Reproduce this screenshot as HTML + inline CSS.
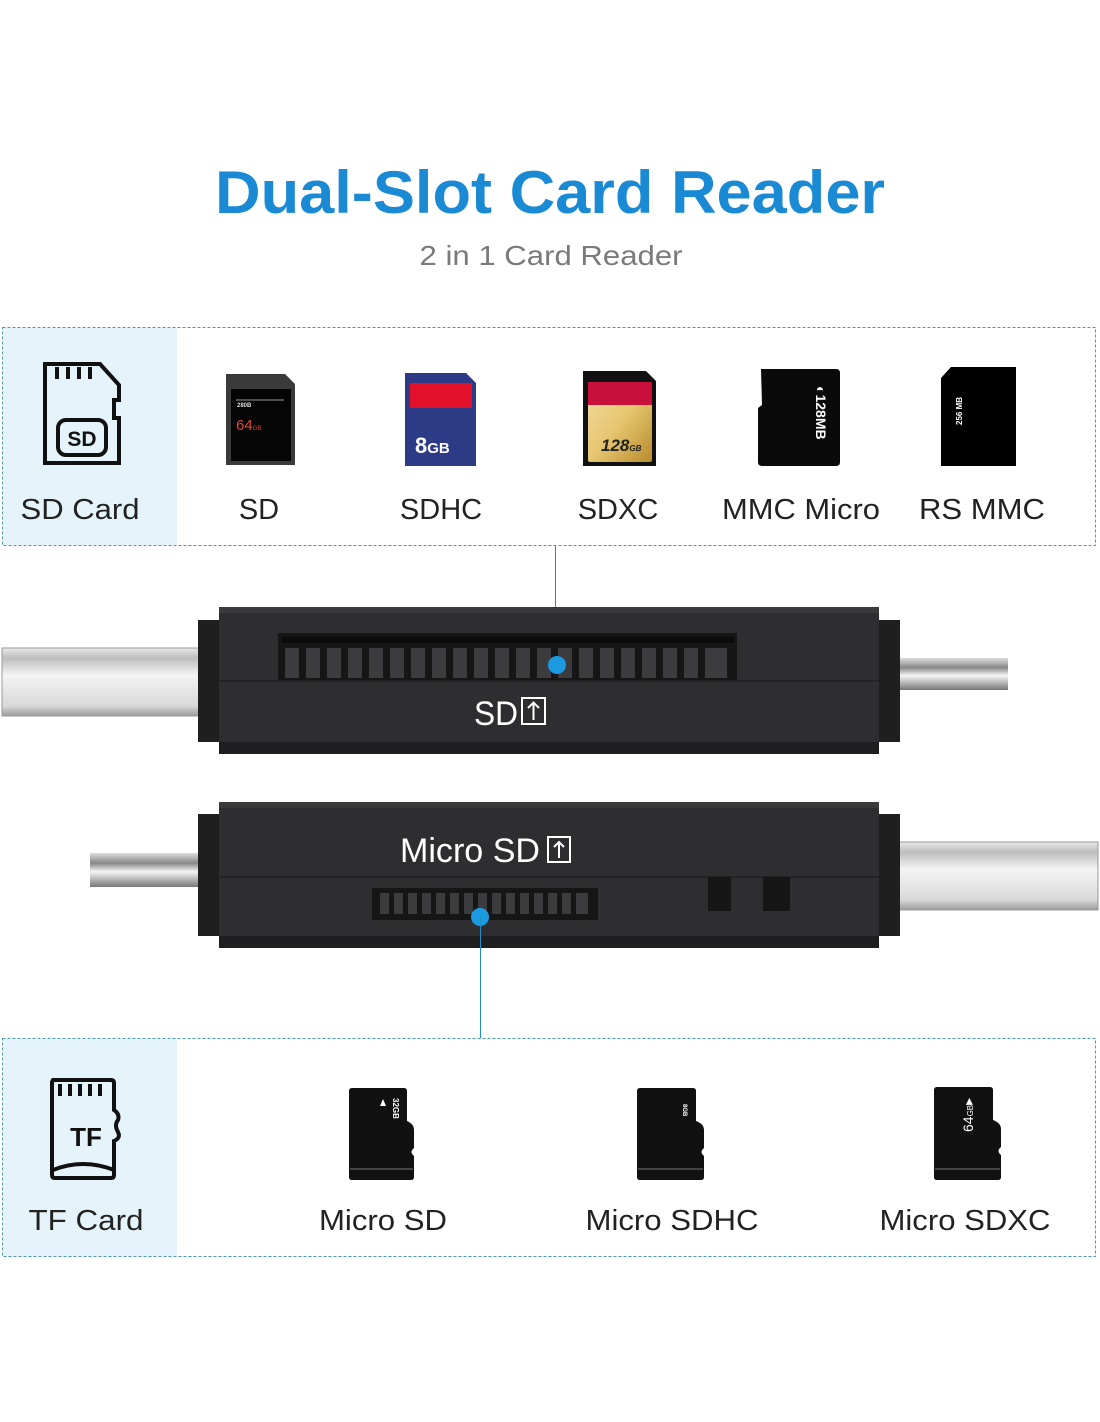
<!DOCTYPE html>
<html><head><meta charset="utf-8"><style>
html,body{margin:0;padding:0;background:#fff;width:1100px;height:1422px;overflow:hidden}
svg{display:block}
text{font-family:"Liberation Sans",Arial,sans-serif}
</style></head><body>
<svg width="1100" height="1422" viewBox="0 0 1100 1422" xmlns="http://www.w3.org/2000/svg">
<defs>
<linearGradient id="usb" x1="0" y1="0" x2="0" y2="1">
<stop offset="0" stop-color="#e8e8e8"/><stop offset="0.15" stop-color="#bdbdbd"/><stop offset="0.4" stop-color="#f4f4f4"/><stop offset="0.85" stop-color="#d9d9d9"/><stop offset="1" stop-color="#9a9a9a"/></linearGradient>
<linearGradient id="mu" x1="0" y1="0" x2="0" y2="1">
<stop offset="0" stop-color="#ddd"/><stop offset="0.3" stop-color="#888"/><stop offset="0.55" stop-color="#f5f5f5"/><stop offset="1" stop-color="#777"/></linearGradient>
<linearGradient id="gold" x1="0" y1="0" x2="1" y2="1">
<stop offset="0" stop-color="#f1dca0"/><stop offset="0.5" stop-color="#e6c670"/><stop offset="1" stop-color="#b88c2c"/></linearGradient>
</defs>

<text x="550" y="213" text-anchor="middle" font-size="60" font-weight="bold" fill="#1a8ad4" textLength="670" lengthAdjust="spacingAndGlyphs">Dual-Slot Card Reader</text>
<text x="551" y="265" text-anchor="middle" font-size="28" fill="#7a7a7a" textLength="263" lengthAdjust="spacingAndGlyphs">2 in 1 Card Reader</text>

<!-- top box -->
<rect x="3" y="328" width="174" height="217" fill="#e5f4fb"/>
<rect x="2.5" y="327.5" width="1093" height="218" fill="none" stroke="#4a9ab0" stroke-dasharray="3,2" stroke-width="1"/>
<!-- SD icon -->
<path d="M45 364 H100 L119 385 V400 H114 V418 H119 V463 H45 Z" fill="none" stroke="#111" stroke-width="4"/>
<path d="M57 367v12M68 367v12M79 367v12M90 367v12" stroke="#111" stroke-width="4"/>
<rect x="58" y="420" width="48" height="35" rx="8" fill="none" stroke="#111" stroke-width="4"/>
<text x="82" y="446" text-anchor="middle" font-size="21" font-weight="bold" fill="#111">SD</text>

<g font-size="29" fill="#222" text-anchor="middle">
<text x="80" y="519" textLength="119" lengthAdjust="spacingAndGlyphs">SD Card</text>
<text x="259" y="519">SD</text>
<text x="441" y="519">SDHC</text>
<text x="618" y="519">SDXC</text>
<text x="801" y="519" textLength="158" lengthAdjust="spacingAndGlyphs">MMC Micro</text>
<text x="982" y="519" textLength="126" lengthAdjust="spacingAndGlyphs">RS MMC</text>
</g>
<!-- SD card -->
<path d="M226 374 H285 L295 384 V465 H226 Z" fill="#3a3a3a"/>
<rect x="231" y="389" width="60" height="72" fill="#050505"/>
<line x1="236" y1="400" x2="284" y2="400" stroke="#999" stroke-width="1"/>
<text x="237" y="407" font-size="6" fill="#ddd" font-weight="bold">280B</text>
<text x="236" y="430" font-size="15" fill="#d94a3a">64<tspan font-size="6">GB</tspan></text>
<!-- SDHC -->
<path d="M405 373 H466 L476 383 V466 H405 Z" fill="#2d3a86"/>
<rect x="410" y="383" width="62" height="25" fill="#e3102c"/>
<text x="415" y="453" font-size="22" fill="#fff" font-weight="bold">8<tspan font-size="15">GB</tspan></text>
<!-- SDXC -->
<path d="M583 371 H646 L656 381 V466 H583 Z" fill="#111"/>
<rect x="588" y="382" width="64" height="80" rx="2" fill="url(#gold)"/>
<rect x="588" y="382" width="64" height="23" fill="#c8103a"/>
<text x="601" y="451" font-size="17" font-style="italic" font-weight="bold" fill="#222">128<tspan font-size="8">GB</tspan></text>
<!-- MMC micro -->
<path d="M761 369 H836 Q840 369 840 373 V462 Q840 466 836 466 H762 Q758 466 758 462 V408 L762 405 Z" fill="#0a0a0a"/>
<text transform="translate(816,386) rotate(90)" font-size="14" font-weight="bold" fill="#fff">◐128MB</text>
<!-- RS MMC -->
<path d="M951 367 H1016 V466 H941 V378 Z" fill="#000"/>
<text transform="translate(962,425) rotate(-90)" font-size="8" font-weight="bold" fill="#fff">256 MB</text>

<!-- connector lines -->
<line x1="555.5" y1="546" x2="555.5" y2="665" stroke="#1d8fc8" stroke-width="1"/>

<!-- device 1 -->
<rect x="2" y="648" width="198" height="68" fill="url(#usb)" stroke="#999"/>
<rect x="898" y="658" width="110" height="32" fill="url(#mu)"/>
<rect x="198" y="620" width="24" height="122" fill="#1f1f20"/>
<rect x="877" y="620" width="23" height="122" fill="#1f1f20"/>
<rect x="219" y="607" width="660" height="147" fill="#2e2e30"/>
<rect x="219" y="607" width="660" height="6" fill="#3a3a3c"/>
<rect x="219" y="680" width="660" height="2" fill="#232325"/>
<rect x="219" y="742" width="660" height="12" fill="#1f1f21"/>
<rect x="278" y="633" width="459" height="47" fill="#161617"/>
<rect x="282" y="637" width="452" height="6" fill="#0b0b0b"/>
<g fill="#3c3c3e">
<rect x="285" y="648" width="14" height="30"/><rect x="306" y="648" width="14" height="30"/><rect x="327" y="648" width="14" height="30"/><rect x="348" y="648" width="14" height="30"/><rect x="369" y="648" width="14" height="30"/><rect x="390" y="648" width="14" height="30"/><rect x="411" y="648" width="14" height="30"/><rect x="432" y="648" width="14" height="30"/><rect x="453" y="648" width="14" height="30"/><rect x="474" y="648" width="14" height="30"/><rect x="495" y="648" width="14" height="30"/><rect x="516" y="648" width="14" height="30"/><rect x="537" y="648" width="14" height="30"/><rect x="558" y="648" width="14" height="30"/><rect x="579" y="648" width="14" height="30"/><rect x="600" y="648" width="14" height="30"/><rect x="621" y="648" width="14" height="30"/><rect x="642" y="648" width="14" height="30"/><rect x="663" y="648" width="14" height="30"/><rect x="684" y="648" width="14" height="30"/><rect x="705" y="648" width="22" height="30"/>
</g>
<circle cx="557" cy="665" r="9" fill="#1c9ae0"/>
<text x="474" y="725" font-size="34" fill="#fff" textLength="44" lengthAdjust="spacingAndGlyphs">SD</text>
<rect x="522" y="698" width="23" height="26" fill="none" stroke="#fff" stroke-width="2"/>
<path d="M533.5 720V703M528 708l5.5-5.5 5.5 5.5" fill="none" stroke="#fff" stroke-width="2"/>

<!-- device 2 -->
<rect x="90" y="853" width="110" height="34" fill="url(#mu)"/>
<rect x="898" y="842" width="200" height="68" fill="url(#usb)" stroke="#999"/>
<rect x="198" y="814" width="24" height="122" fill="#1f1f20"/>
<rect x="877" y="814" width="23" height="122" fill="#1f1f20"/>
<rect x="219" y="802" width="660" height="146" fill="#2e2e30"/>
<rect x="219" y="802" width="660" height="6" fill="#3a3a3c"/>
<rect x="219" y="876" width="660" height="2" fill="#232325"/>
<rect x="219" y="936" width="660" height="12" fill="#1f1f21"/>
<rect x="372" y="888" width="226" height="32" fill="#161617"/>
<g fill="#3c3c3e">
<rect x="380" y="893" width="9" height="21"/><rect x="394" y="893" width="9" height="21"/><rect x="408" y="893" width="9" height="21"/><rect x="422" y="893" width="9" height="21"/><rect x="436" y="893" width="9" height="21"/><rect x="450" y="893" width="9" height="21"/><rect x="464" y="893" width="9" height="21"/><rect x="478" y="893" width="9" height="21"/><rect x="492" y="893" width="9" height="21"/><rect x="506" y="893" width="9" height="21"/><rect x="520" y="893" width="9" height="21"/><rect x="534" y="893" width="9" height="21"/><rect x="548" y="893" width="9" height="21"/><rect x="562" y="893" width="9" height="21"/><rect x="576" y="893" width="12" height="21"/>
</g>
<rect x="708" y="877" width="23" height="34" fill="#161617"/>
<rect x="763" y="877" width="27" height="34" fill="#161617"/>
<circle cx="480" cy="917" r="9" fill="#1c9ae0"/>
<line x1="480.5" y1="917" x2="480.5" y2="1038" stroke="#1d8fc8" stroke-width="1"/>
<text x="400" y="862" font-size="34" fill="#fff" textLength="140" lengthAdjust="spacingAndGlyphs">Micro SD</text>
<rect x="548" y="837" width="22" height="25" fill="none" stroke="#fff" stroke-width="2"/>
<path d="M559 858V842M554 847l5-5 5 5" fill="none" stroke="#fff" stroke-width="2"/>

<!-- bottom box -->
<rect x="3" y="1039" width="174" height="217" fill="#e5f4fb"/>
<rect x="2.5" y="1038.5" width="1093" height="218" fill="none" stroke="#4a9ab0" stroke-dasharray="3,2" stroke-width="1"/>
<!-- TF icon -->
<path d="M53 1080 H111 Q114 1080 114 1083 V1110 Q120 1114 118 1120 Q114 1125 118 1132 Q121 1138 114 1141 V1175 Q114 1178 111 1178 H55 Q52 1178 52 1175 V1082 Z" fill="none" stroke="#111" stroke-width="4"/>
<path d="M60 1084v12M70 1084v12M80 1084v12M90 1084v12M100 1084v12" stroke="#111" stroke-width="4"/>
<path d="M53 1170 Q83 1158 114 1170" fill="none" stroke="#111" stroke-width="4"/>
<text x="86" y="1146" text-anchor="middle" font-size="26" font-weight="bold" fill="#111">TF</text>

<g font-size="29" fill="#222" text-anchor="middle">
<text x="86" y="1230" textLength="115" lengthAdjust="spacingAndGlyphs">TF Card</text>
<text x="383" y="1230" textLength="128" lengthAdjust="spacingAndGlyphs">Micro SD</text>
<text x="672" y="1230" textLength="173" lengthAdjust="spacingAndGlyphs">Micro SDHC</text>
<text x="965" y="1230" textLength="171" lengthAdjust="spacingAndGlyphs">Micro SDXC</text>
</g>
<!-- micro cards -->
<path d="M352 1088 H404 Q407 1088 407 1091 V1121 Q414 1124 414 1130 V1148 Q409 1152 414 1156 V1177 Q414 1180 411 1180 H352 Q349 1180 349 1177 V1091 Q349 1088 352 1088 Z" fill="#111"/>
<line x1="350" y1="1169" x2="413" y2="1169" stroke="#555" stroke-width="1.5"/>
<text transform="translate(393,1098) rotate(90)" font-size="8" font-weight="bold" fill="#fff">32GB</text>
<path d="M380 1106l3-7 3 7z" fill="#fff"/>
<path d="M640 1088 H693 Q696 1088 696 1091 V1121 Q704 1124 704 1130 V1148 Q699 1152 704 1156 V1177 Q704 1180 701 1180 H640 Q637 1180 637 1177 V1091 Q637 1088 640 1088 Z" fill="#111"/>
<line x1="638" y1="1169" x2="703" y2="1169" stroke="#555" stroke-width="1.5"/>
<text transform="translate(683,1104) rotate(90)" font-size="6" font-weight="bold" fill="#fff">8GB</text>
<path d="M937 1087 H990 Q993 1087 993 1090 V1120 Q1001 1123 1001 1129 V1147 Q996 1151 1001 1155 V1177 Q1001 1180 998 1180 H937 Q934 1180 934 1177 V1090 Q934 1087 937 1087 Z" fill="#111"/>
<line x1="935" y1="1169" x2="1000" y2="1169" stroke="#555" stroke-width="1.5"/>
<text transform="translate(973,1132) rotate(-90)" font-size="14" fill="#fff">64<tspan font-size="8">GB</tspan>▸</text>
</svg>
</body></html>
